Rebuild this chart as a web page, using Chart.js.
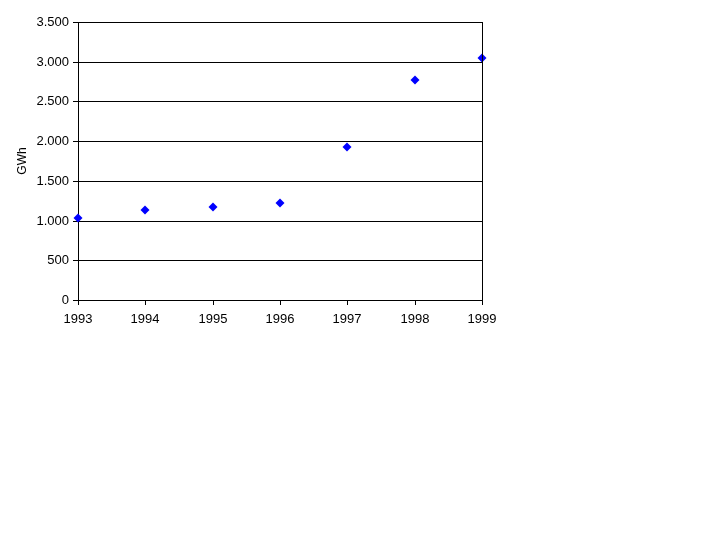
<!DOCTYPE html>
<html>
<head>
<meta charset="utf-8">
<script src="https://cdn.jsdelivr.net/npm/chart.js@4/dist/chart.umd.min.js"></script>
<style>
  html, body { margin: 0; padding: 0; background: #fff; }
  #grafica { display: block; }
</style>
</head>
<body>
<canvas id="grafica" width="720" height="540"></canvas>
<script>
// datos
const anios = [1993, 1994, 1995, 1996, 1997, 1998, 1999];
const gwh = [1037, 1137, 1175, 1221, 1927, 2768, 3045];
const tituloY = "GWh";

const fuente = { family: "'Liberation Sans', Arial, sans-serif", size: 13 };
const fuenteTitulo = { family: "'Liberation Sans', Arial, sans-serif", size: 12 };

// separador de miles con punto
function formatoMiles(v) {
  return String(v).replace(/\B(?=(\d{3})+(?!\d))/g, ".");
}

// borde derecho del area del grafico
const bordeDerecho = {
  id: "bordeDerecho",
  afterDraw(chart) {
    const { ctx, chartArea } = chart;
    ctx.save();
    ctx.strokeStyle = "#000";
    ctx.lineWidth = 1;
    ctx.beginPath();
    const x = Math.round(chartArea.right) + 0.5;
    ctx.moveTo(x, chartArea.top);
    ctx.lineTo(x, chartArea.bottom);
    ctx.stroke();
    ctx.restore();
  },
};

new Chart(document.getElementById("grafica"), {
  type: "scatter",
  data: {
    datasets: [
      {
        label: tituloY,
        data: anios.map((a, i) => ({ x: a, y: gwh[i] })),
        pointStyle: "rectRot",
        pointRadius: 4.5,
        backgroundColor: "#0000FF",
        borderColor: "#0000FF",
        borderWidth: 0,
        clip: false,
      },
    ],
  },
  options: {
    responsive: false,
    animation: false,
    layout: { padding: { left: 0, top: 22, right: 238, bottom: 210 } },
    plugins: {
      legend: { display: false },
      tooltip: { enabled: false },
    },
    scales: {
      x: {
        type: "linear",
        min: 1993,
        max: 1999,
        alignToPixels: true,
        ticks: {
          stepSize: 1,
          color: "#000",
          font: fuente,
          padding: 7,
          maxRotation: 0,
          callback: (v) => String(v),
        },
        grid: { drawOnChartArea: false, drawTicks: true, tickLength: 5, color: "#000" },
        border: { color: "#000", width: 1 },
        afterFit: (s) => { s.height = 30; },
      },
      y: {
        min: 0,
        max: 3500,
        alignToPixels: true,
        ticks: {
          stepSize: 500,
          color: "#000",
          font: fuente,
          padding: 4,
          callback: (v) => formatoMiles(v),
        },
        grid: { color: "#000", tickLength: 5, drawTicks: true },
        border: { color: "#000", width: 1 },
        title: {
          display: true,
          text: tituloY,
          color: "#000",
          font: fuenteTitulo,
          padding: { top: 15, bottom: 0 },
        },
        afterFit: (s) => { s.width = 78; },
      },
    },
  },
  plugins: [bordeDerecho],
});
</script>
</body>
</html>
